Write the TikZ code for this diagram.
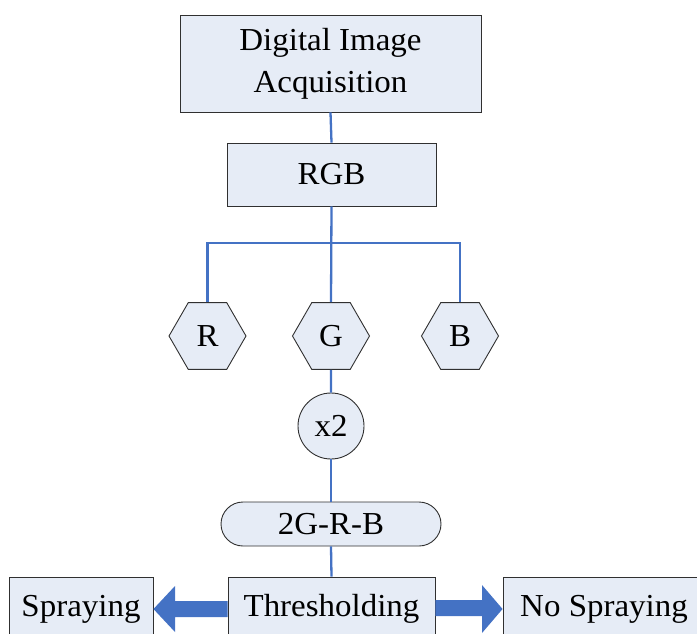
\documentclass[tikz,border=0pt]{standalone}
\usepackage{fontspec}
\setmainfont{Liberation Serif}[FakeStretch=1.03]
\usetikzlibrary{shapes.geometric}
\definecolor{boxfill}{HTML}{E6ECF6}
\definecolor{linkblue}{HTML}{4472C4}
\definecolor{edge}{HTML}{303030}
\begin{document}
\begin{tikzpicture}[x=1pt,y=-1pt,
  every node/.style={font=\fontsize{32}{42}\selectfont, inner sep=0pt},
  sqbox/.style={draw=edge, line width=0.9pt, fill=boxfill, rectangle, align=center},
  hexbox/.style={draw=edge, line width=0.9pt, fill=boxfill, regular polygon, regular polygon sides=6, minimum size=77pt},
  roundbox/.style={draw=edge, line width=0.9pt, fill=boxfill, circle, minimum size=66pt},
  pillbox/.style={draw=edge, line width=0.9pt, fill=boxfill, rectangle, rounded corners=22pt, minimum width=220pt, minimum height=44pt},
  link/.style={draw=linkblue, line width=2.3pt},
  blockarrow/.style={fill=linkblue, draw=none}
]
\useasboundingbox (0,0) rectangle (697,633);

\node[sqbox, minimum width=301pt, minimum height=97pt] (acq) at (330.5,63.5) {Digital Image\\Acquisition};
\node[sqbox, minimum width=209pt, minimum height=63pt] (rgb) at (331.5,174.5) {RGB};
\node[hexbox] (r) at (207.5,336) {R};
\node[hexbox] (g) at (331,336) {G};
\node[hexbox] (b) at (460,336) {B};
\node[roundbox] (x2) at (331,426) {x2};
\node[pillbox] (diff) at (331,524) {2G-R-B};
\node[sqbox, minimum width=144pt, minimum height=64pt] (spray) at (81,609) {Spraying};
\node[sqbox, minimum width=207pt, minimum height=64pt] (thr) at (331.5,609) {Thresholding};
\node[sqbox, minimum width=202pt, minimum height=64pt] (nospray) at (604,609) {No Spraying};

\coordinate (br) at (331,243);

\draw[link] (acq.south) -- (rgb.north);
\draw[link] (rgb.south) -- (g.north);
\draw[link] (r.north) |- (br) -| (b.north);
\draw[link] (g.south) -- (x2.north);
\draw[link] (x2.south) -- (diff.north);
\draw[link] (diff.south) -- (thr.north);

% block arrows
\fill[blockarrow] (thr.west |- 0,601) -- (175,601) -- (175,586) -- (spray.east) -- (175,632) -- (175,617) -- (thr.west |- 0,617) -- cycle;
\fill[blockarrow] (thr.east |- 0,600) -- (482,600) -- (482,585) -- (nospray.west) -- (482,633) -- (482,616) -- (thr.east |- 0,616) -- cycle;
\end{tikzpicture}
\end{document}
